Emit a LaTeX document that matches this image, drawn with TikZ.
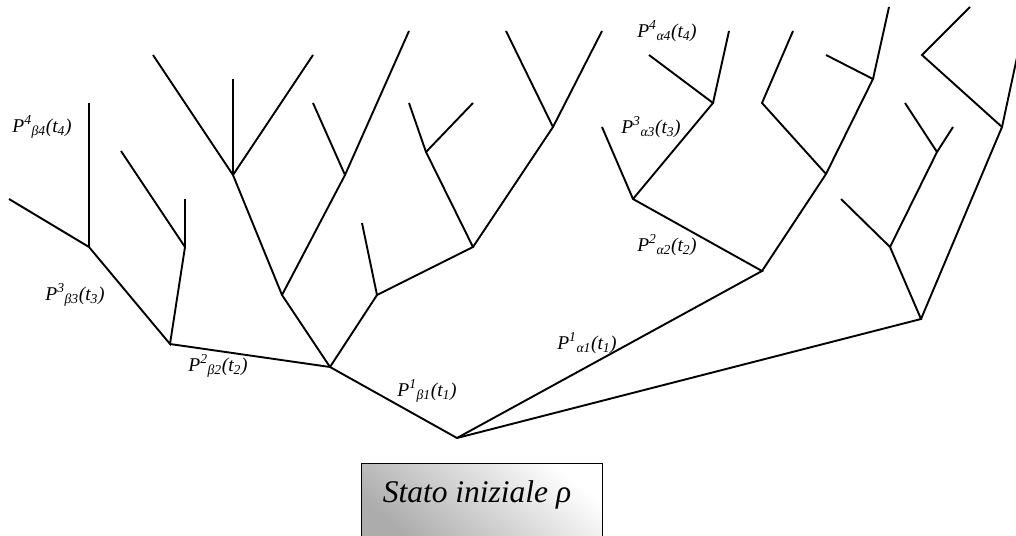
\documentclass[tikz,border=0pt]{standalone}
\usepackage{fontspec}
\setmainfont{Liberation Serif}
\begin{document}
\begin{tikzpicture}[x=1pt,y=-1pt,
  br/.style={line width=1.9pt, line join=miter},
  lbl/.style={font=\fontsize{19.5}{22}\selectfont\itshape, inner sep=0pt},
  initbox/.style={draw=black, line width=1.3pt, minimum width=241pt, minimum height=76pt,
    anchor=north west, inner sep=0pt,
    top color=white, bottom color=gray!65, shading angle=-40}]
\useasboundingbox (0,0) rectangle (1016,535);
\clip (0,0) rectangle (1016,535);
% coordinates
\coordinate (R) at (457,438);
\coordinate (b1) at (330,367);
\coordinate (b2) at (170,344);
\coordinate (b3) at (89,247); \coordinate (b3a) at (9,199); \coordinate (b3b) at (89,103);
\coordinate (c) at (185,247); \coordinate (ca) at (185,199); \coordinate (cb) at (121,151);
\coordinate (d) at (282,295);
\coordinate (e) at (233,175); \coordinate (ea) at (153,55); \coordinate (eb) at (233,79); \coordinate (ec) at (313,55);
\coordinate (f) at (345,175); \coordinate (fa) at (313,103); \coordinate (fb) at (409,31);
\coordinate (g) at (377,295); \coordinate (ga) at (362,223);
\coordinate (h) at (473,247);
\coordinate (i) at (426,152); \coordinate (ia) at (409,103); \coordinate (ib) at (473,103);
\coordinate (j) at (553,127); \coordinate (ja) at (506,31); \coordinate (jb) at (602,31);
\coordinate (a1) at (762,271);
\coordinate (a2) at (633,199); \coordinate (a2a) at (602,127);
\coordinate (a3) at (713,103); \coordinate (a3a) at (649,55); \coordinate (a3b) at (729,31);
\coordinate (k) at (826,174);
\coordinate (l) at (762,103); \coordinate (la) at (793,31);
\coordinate (m) at (873,79); \coordinate (ma) at (826,55); \coordinate (mb) at (889,7);
\coordinate (n) at (921,319);
\coordinate (o) at (890,247); \coordinate (oa) at (841,199);
\coordinate (p) at (937,152); \coordinate (pa) at (905,103); \coordinate (pb) at (953,127);
\coordinate (q) at (1002,127); \coordinate (qa) at (1017.5,55);
\coordinate (s) at (922,55); \coordinate (sa) at (970,7);
% left tree
\draw[br] (b3a) -- (b3) -- (b2) -- (c) -- (cb);
\draw[br] (b3) -- (b3b);
\draw[br] (c) -- (ca);
\draw[br] (b2) -- (b1) -- (R) -- (a1) -- (a2) -- (a2a);
\draw[br] (b1) -- (d) -- (e) -- (ea);
\draw[br] (e) -- (eb);
\draw[br] (e) -- (ec);
\draw[br] (d) -- (f) -- (fa);
\draw[br] (f) -- (fb);
\draw[br] (b1) -- (g) -- (ga);
\draw[br] (g) -- (h) -- (i) -- (ia);
\draw[br] (i) -- (ib);
\draw[br] (h) -- (j) -- (ja);
\draw[br] (j) -- (jb);
% right tree
\draw[br] (a2) -- (a3) -- (a3a);
\draw[br] (a3) -- (a3b);
\draw[br] (a1) -- (k) -- (l) -- (la);
\draw[br] (k) -- (m) -- (ma);
\draw[br] (m) -- (mb);
\draw[br] (R) -- (n) -- (o) -- (oa);
\draw[br] (o) -- (p) -- (pa);
\draw[br] (p) -- (pb);
\draw[br] (n) -- (q) -- (s) -- (sa);
\draw[br] (q) -- (qa);
% labels
\node[lbl] (lb4) at (42,127) {P\textsuperscript{4}\textsubscript{β4}(t\textsubscript{4})};
\node[lbl] (lb3) at (75,295) {P\textsuperscript{3}\textsubscript{β3}(t\textsubscript{3})};
\node[lbl] (lb2) at (218,366) {P\textsuperscript{2}\textsubscript{β2}(t\textsubscript{2})};
\node[lbl] (lb1) at (427,391) {P\textsuperscript{1}\textsubscript{β1}(t\textsubscript{1})};
\node[lbl] (la1) at (587,343) {P\textsuperscript{1}\textsubscript{α1}(t\textsubscript{1})};
\node[lbl] (la2) at (667,245) {P\textsuperscript{2}\textsubscript{α2}(t\textsubscript{2})};
\node[lbl] (la3) at (651,127) {P\textsuperscript{3}\textsubscript{α3}(t\textsubscript{3})};
\node[lbl] (la4) at (667,31) {P\textsuperscript{4}\textsubscript{α4}(t\textsubscript{4})};
% initial state box
\node[initbox] (init) at (361,463) {};
\node[font=\fontsize{31.5}{36}\selectfont\itshape, inner sep=0pt] (inittext) at (477,495) {Stato iniziale ρ};
\end{tikzpicture}
\end{document}
